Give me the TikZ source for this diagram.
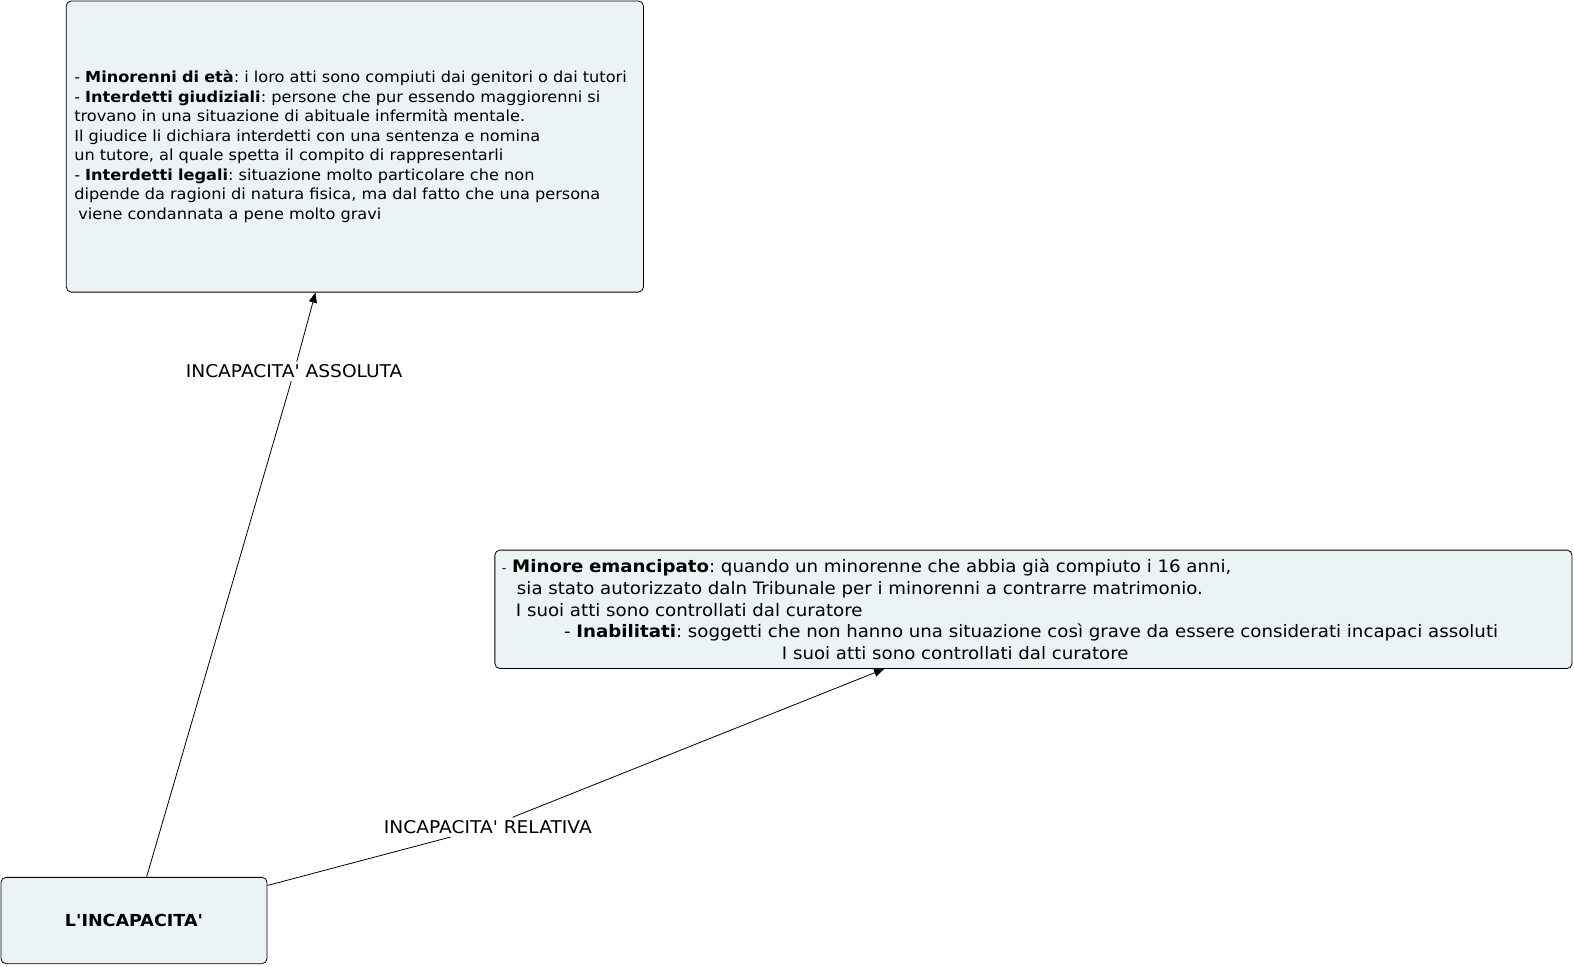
\documentclass[tikz,border=0pt]{standalone}
\usepackage{fontspec}
\setmainfont{DejaVu Sans}[Ligatures=TeXOff, FakeStretch=1.06]
\usetikzlibrary{arrows.meta}
\definecolor{boxfill}{HTML}{EBF3F5}
\tikzset{
  concept/.style={draw=black, fill=boxfill, rounded corners=5pt, line width=0.8pt},
  linklabel/.style={font=\fontsize{17.5}{20}\selectfont, inner sep=3pt},
  link/.style={line width=0.8pt},
  linkarrow/.style={link, -{Triangle[length=10pt,width=8pt]}},
}

\begin{document}
\frenchspacing
\begin{tikzpicture}[x=1pt,y=-1pt]
\useasboundingbox (0,0) rectangle (1568,963);
\node [concept, minimum height=290pt, text width=559pt, inner xsep=8pt, align=left, font=\fontsize{15.2}{19.4}\selectfont] (assoluta) at (353.5,146) {- \textbf{Minorenni di età}: i loro atti sono compiuti dai genitori o dai tutori\\
- \textbf{Interdetti giudiziali}: persone che pur essendo maggiorenni si\\
trovano in una situazione di abituale infermità mentale.\\
Il giudice li dichiara interdetti con una sentenza e nomina\\
un tutore, al quale spetta il compito di rappresentarli\\
- \textbf{Interdetti legali}: situazione molto particolare che non\\
dipende da ragioni di natura fisica, ma dal fatto che una persona\\
\hspace*{4pt}viene condannata a pene molto gravi};
\node [concept, minimum height=118pt, text width=1059pt, inner xsep=7pt, align=left, font=\fontsize{17.1}{21.7}\selectfont] (relativa) at (1029.5,607) {{\fontsize{12}{12}\selectfont -} \textbf{Minore emancipato}: quando un minorenne che abbia già compiuto i 16 anni,\\
\hspace*{15pt}sia stato autorizzato daln Tribunale per i minorenni a contrarre matrimonio.\\
\hspace*{14pt}I suoi atti sono controllati dal curatore\\
\hspace*{62pt}- \textbf{Inabilitati}: soggetti che non hanno una situazione così grave da essere considerati incapaci assoluti\\
\hspace*{279pt}I suoi atti sono controllati dal curatore};
\node [concept, minimum width=265pt, minimum height=86pt, font=\fontsize{16.5}{18}\selectfont\bfseries] (incapacita) at (133.5,917) {L'INCAPACITA'};
\node [linklabel] (abslabel) at (293,370) {INCAPACITA' ASSOLUTA};
\node [linklabel] (rellabel) at (486,824) {INCAPACITA' RELATIVA};
\draw [link] (incapacita) -- (abslabel);
\draw [linkarrow] (abslabel) -- (assoluta);
\draw [link] (incapacita) -- (rellabel);
\draw [linkarrow] (rellabel) -- (relativa);
\end{tikzpicture}
\end{document}
